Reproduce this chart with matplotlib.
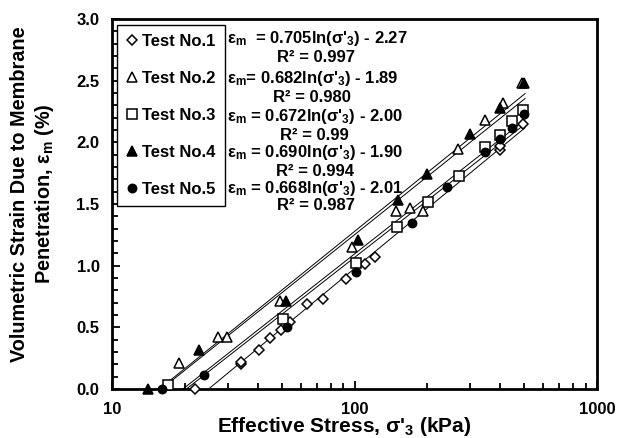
import numpy as np
import matplotlib
matplotlib.use("Agg")
import matplotlib.pyplot as plt
from matplotlib.ticker import NullFormatter, MultipleLocator, FormatStrFormatter, FuncFormatter

plt.rcParams['font.family'] = ['Liberation Sans', 'DejaVu Sans']
plt.rcParams['font.weight'] = 'bold'
plt.rcParams['mathtext.fontset'] = 'custom'
plt.rcParams['mathtext.rm'] = 'Liberation Sans:bold'
plt.rcParams['mathtext.it'] = 'Liberation Sans:bold'
plt.rcParams['mathtext.bf'] = 'Liberation Sans:bold'

# ---- data ----
t1_x = [22, 34, 34, 40.4, 44.8, 49.8, 54.2, 63.7, 74.1, 92.2, 110, 121.5, 398, 400, 495]
t1_y = [0.0, 0.20, 0.22, 0.32, 0.41, 0.48, 0.54, 0.69, 0.73, 0.89, 1.01, 1.07, 1.94, 1.97, 2.15]

t2_x = [18.9, 27.4, 29.8, 49.3, 97.7, 148, 169, 192, 267, 345, 410, 491]
t2_y = [0.21, 0.42, 0.42, 0.71, 1.15, 1.44, 1.47, 1.44, 1.95, 2.18, 2.32, 2.48]

t3_x = [17.0, 50.7, 101, 150, 201, 270, 345, 398, 445, 495]
t3_y = [0.03, 0.57, 1.02, 1.31, 1.52, 1.73, 1.96, 2.06, 2.17, 2.26]

t4_x = [14.1, 22.8, 52.2, 103, 151, 199, 299, 398, 500]
t4_y = [0.0, 0.32, 0.71, 1.21, 1.53, 1.74, 2.07, 2.28, 2.48]

t5_x = [16.1, 23.9, 52.7, 101, 172, 240, 345, 398, 445, 500]
t5_y = [0.0, 0.11, 0.50, 0.95, 1.35, 1.64, 1.92, 2.03, 2.12, 2.23]

labels = ['Test No.1', 'Test No.2', 'Test No.3', 'Test No.4', 'Test No.5']
slopes = [0.705, 0.682, 0.672, 0.690, 0.668]
intercepts = [-2.27, -1.89, -2.00, -1.90, -2.01]
r2_text = ['0.997', '0.980', '0.99', '0.994', '0.987']
eq_text = [r"ε$_\mathregular{m}$  = 0.705ln(σ'$_\mathregular{3}$) - 2.27",
           r"ε$_\mathregular{m}$= 0.682ln(σ'$_\mathregular{3}$) - 1.89",
           r"ε$_\mathregular{m}$ = 0.672ln(σ'$_\mathregular{3}$) - 2.00",
           r"ε$_\mathregular{m}$ = 0.690ln(σ'$_\mathregular{3}$) - 1.90",
           r"ε$_\mathregular{m}$ = 0.668ln(σ'$_\mathregular{3}$) - 2.01"]

W, H = 623, 438
fig = plt.figure(figsize=(W/100, H/100), dpi=100)
ax = fig.add_axes([112/W, 1 - 389/H, (597-112)/W, (389-19)/H])

series = [(t1_x, t1_y, 'D', 'white', 5.0),
          (t2_x, t2_y, '^', 'white', 7.5),
          (t3_x, t3_y, 's', 'white', 6.5),
          (t4_x, t4_y, '^', 'black', 7.5),
          (t5_x, t5_y, 'o', 'black', 6.0)]

# fit lines
for k in range(5):
    x0 = np.exp(-intercepts[k] / slopes[k]) * 0.97
    xs = np.geomspace(x0, 505, 100)
    ax.plot(xs, slopes[k] * np.log(xs) + intercepts[k], color='black', lw=0.7, zorder=2)

handles = []
for k, (xs, ys, m, fc, ms) in enumerate(series):
    h, = ax.plot(xs, ys, linestyle='none', marker=m, mfc=fc, mec='black', mew=1.1,
                 ms=ms, label=labels[k], zorder=3, clip_on=False)
    handles.append(h)

ax.set_xscale('log')
ax.set_xlim(10, 1000)
ax.set_ylim(0, 3.0)
ax.yaxis.set_major_locator(MultipleLocator(0.5))
ax.yaxis.set_minor_locator(MultipleLocator(0.1))
ax.yaxis.set_major_formatter(FormatStrFormatter('%.1f'))
ax.xaxis.set_major_formatter(FuncFormatter(lambda v, p: f'{v:.0f}'))
ax.xaxis.set_minor_formatter(NullFormatter())
ax.tick_params(which='both', direction='in', top=False, right=False, labelsize=12, width=1.3)
ax.tick_params(axis='x', pad=9)
ax.tick_params(axis='y', pad=9)
ax.tick_params(which='major', length=6)
ax.tick_params(which='minor', length=4)
for s in ax.spines.values():
    s.set_linewidth(2)

fig.text(344/W, 1 - 427/H, "Effective Stress, σ'$_\\mathregular{3}$ (kPa)", fontsize=15,
         fontweight='bold', ha='center', va='center')
fig.text(33/W, 1 - 194/H, "Volumetric Strain Due to Membrane\nPenetration, ε$_\\mathregular{m}$ (%)",
         fontsize=14.3, fontweight='bold', ha='center', va='center', rotation=90,
         multialignment='center', linespacing=1.2)

leg = ax.legend(handles=handles, loc='upper left', bbox_to_anchor=(5/485, 1 - 6/370), frameon=True,
                fancybox=False, edgecolor='black', framealpha=1, fontsize=12, handlelength=0.7,
                handletextpad=0.25, labelspacing=1.32, borderpad=0.55, borderaxespad=0)
leg.get_frame().set_linewidth(1.0)
for t in leg.get_texts():
    t.set_fontweight('bold')

eq_y = [38, 78, 116, 152, 188]
r2_x = [277, 273, 280, 276, 277]
r2_y = [58, 98, 135, 172, 206]
for k in range(5):
    fig.text(227/W, 1 - eq_y[k]/H, eq_text[k], fontsize=12, fontweight='bold', va='center', ha='left')
    fig.text(r2_x[k]/W, 1 - r2_y[k]/H, 'R² = ' + r2_text[k], fontsize=12, fontweight='bold',
             va='center', ha='left')

fig.savefig('out.png', dpi=100)
